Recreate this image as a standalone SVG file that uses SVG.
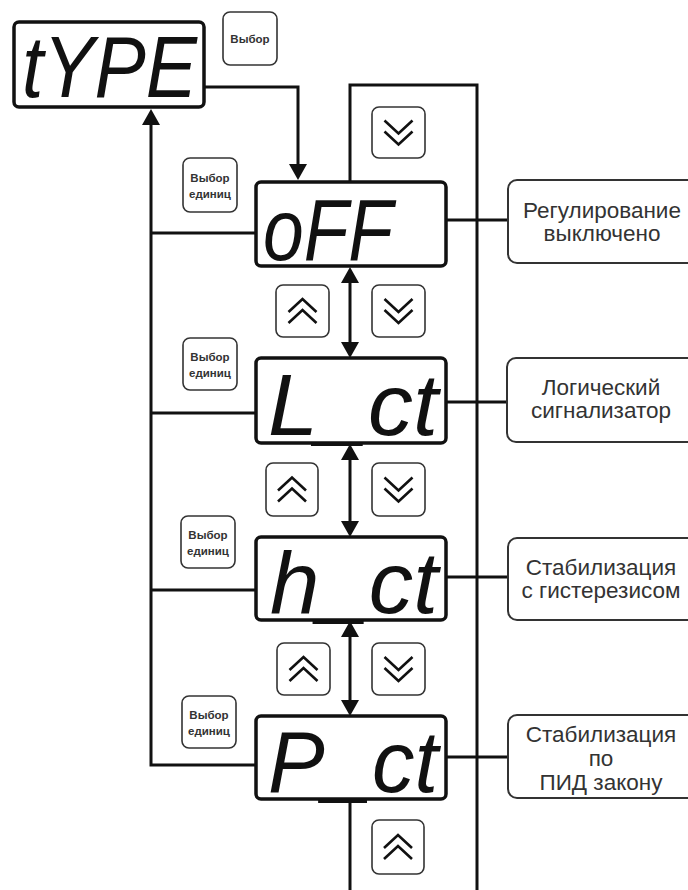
<svg xmlns="http://www.w3.org/2000/svg" width="688" height="890" viewBox="0 0 688 890">
<defs>
<style>
.disp{fill:#fff;stroke:#111;stroke-width:3.5}
.seg{font-family:"Liberation Sans",Arial,sans-serif;font-style:italic;font-size:88px;fill:#111}
.btn{fill:#fff;stroke:#333;stroke-width:1.6}
.btxt{font-family:"Liberation Sans",Arial,sans-serif;font-weight:bold;font-size:11.5px;fill:#333;text-anchor:middle}
.chev{fill:none;stroke:#111;stroke-width:2.6}
.box{fill:#fff;stroke:#333;stroke-width:2}
.lbl{font-family:"Liberation Sans",Arial,sans-serif;font-size:22.5px;fill:#333;text-anchor:middle}
.ln{fill:none;stroke:#111;stroke-width:3}
</style>
<marker id="ah" viewBox="0 0 16 18" refX="0" refY="9" markerWidth="16" markerHeight="18" markerUnits="userSpaceOnUse" orient="auto-start-reverse">
<path d="M0,0 L16,9 L0,18 Z" fill="#111"/>
</marker>
<g id="up"><path class="chev" d="M-14,1 L0,-12 L14,1 M-14,12 L0,-1 L14,12"/></g>
<g id="down"><path class="chev" d="M-14,-12 L0,1 L14,-12 M-14,-1 L0,12 L14,-1"/></g>
</defs>
<rect width="688" height="890" fill="#fff"/>

<g id="connectors">
<path class="ln" d="M204,87 H298 V164" marker-end="url(#ah)"/>
<path class="ln" d="M256,765 H151 V125" marker-end="url(#ah)"/>
<path class="ln" d="M151,233 H256 M151,413 H256 M151,590 H256"/>
<path class="ln" d="M350,182 V85 H477 V890"/>
<path class="ln" d="M350,799 V890"/>
<path class="ln" d="M350,283 V342" marker-start="url(#ah)" marker-end="url(#ah)"/>
<path class="ln" d="M350,460 V521" marker-start="url(#ah)" marker-end="url(#ah)"/>
<path class="ln" d="M350,637 V700" marker-start="url(#ah)" marker-end="url(#ah)"/>
<path class="ln" d="M446,220 H508 M446,402 H508 M446,577 H508 M446,757 H508"/>
</g>

<g id="disp-type">
<rect class="disp" x="14" y="22" width="190" height="85" rx="5"/>
<text class="seg" x="22" y="97" textLength="175" lengthAdjust="spacingAndGlyphs">tYPE</text>
</g>
<g id="disp-off">
<rect class="disp" x="256" y="182" width="190" height="84" rx="5"/>
<text class="seg" x="263" y="260" textLength="130" lengthAdjust="spacingAndGlyphs">oFF</text>
</g>
<g id="disp-lct">
<rect class="disp" x="256" y="358" width="190" height="85" rx="5"/>
<text class="seg" x="268" y="435" textLength="170" lengthAdjust="spacingAndGlyphs">L_ct</text>
</g>
<g id="disp-hct">
<rect class="disp" x="256" y="537" width="190" height="83" rx="5"/>
<text class="seg" x="270" y="613" textLength="168" lengthAdjust="spacingAndGlyphs">h_ct</text>
</g>
<g id="disp-pct">
<rect class="disp" x="256" y="716" width="190" height="83" rx="5"/>
<text class="seg" x="268" y="792" textLength="170" lengthAdjust="spacingAndGlyphs">P_ct</text>
</g>

<g id="btn-vybor">
<rect class="btn" x="223" y="12" width="54" height="53" rx="7"/>
<text class="btxt" x="250" y="43">Выбор</text>
</g>
<g id="btn-units-1">
<rect class="btn" x="183" y="158" width="54" height="54" rx="7"/>
<text class="btxt" x="210" y="182">Выбор</text>
<text class="btxt" x="210" y="198">единиц</text>
</g>
<g id="btn-units-2">
<rect class="btn" x="183" y="338" width="54" height="52" rx="7"/>
<text class="btxt" x="210" y="361">Выбор</text>
<text class="btxt" x="210" y="377">единиц</text>
</g>
<g id="btn-units-3">
<rect class="btn" x="181" y="516" width="54" height="52" rx="7"/>
<text class="btxt" x="208" y="539">Выбор</text>
<text class="btxt" x="208" y="555">единиц</text>
</g>
<g id="btn-units-4">
<rect class="btn" x="182" y="696" width="54" height="52" rx="7"/>
<text class="btxt" x="209" y="719">Выбор</text>
<text class="btxt" x="209" y="735">единиц</text>
</g>

<g id="btn-down-0"><rect class="btn" x="372" y="107" width="53" height="51" rx="7"/><use href="#down" x="398.5" y="132.5"/></g>
<g id="btn-up-1"><rect class="btn" x="276" y="285" width="53" height="52" rx="7"/><use href="#up" x="302.5" y="311"/></g>
<g id="btn-down-1"><rect class="btn" x="372" y="285" width="53" height="52" rx="7"/><use href="#down" x="398.5" y="311"/></g>
<g id="btn-up-2"><rect class="btn" x="266" y="463" width="52" height="53" rx="7"/><use href="#up" x="292" y="489.5"/></g>
<g id="btn-down-2"><rect class="btn" x="372" y="463" width="53" height="53" rx="7"/><use href="#down" x="398.5" y="489.5"/></g>
<g id="btn-up-3"><rect class="btn" x="277" y="643" width="53" height="52" rx="7"/><use href="#up" x="303.5" y="669"/></g>
<g id="btn-down-3"><rect class="btn" x="372" y="643" width="53" height="52" rx="7"/><use href="#down" x="398.5" y="669"/></g>
<g id="btn-up-4"><rect class="btn" x="372" y="820" width="52" height="54" rx="7"/><use href="#up" x="398" y="847"/></g>

<g id="box-off">
<rect class="box" x="508" y="180" width="190" height="83" rx="9"/>
<text class="lbl" x="602" y="218">Регулирование</text>
<text class="lbl" x="602" y="241">выключено</text>
</g>
<g id="box-lct">
<rect class="box" x="507" y="358" width="191" height="84" rx="9"/>
<text class="lbl" x="601" y="395">Логический</text>
<text class="lbl" x="601" y="418">сигнализатор</text>
</g>
<g id="box-hct">
<rect class="box" x="508" y="538" width="190" height="82" rx="9"/>
<text class="lbl" x="601" y="575">Стабилизация</text>
<text class="lbl" x="601" y="598">с гистерезисом</text>
</g>
<g id="box-pct">
<rect class="box" x="508" y="715" width="190" height="83" rx="9"/>
<text class="lbl" x="601" y="742">Стабилизация</text>
<text class="lbl" x="601" y="766">по</text>
<text class="lbl" x="601" y="790">ПИД закону</text>
</g>
</svg>
